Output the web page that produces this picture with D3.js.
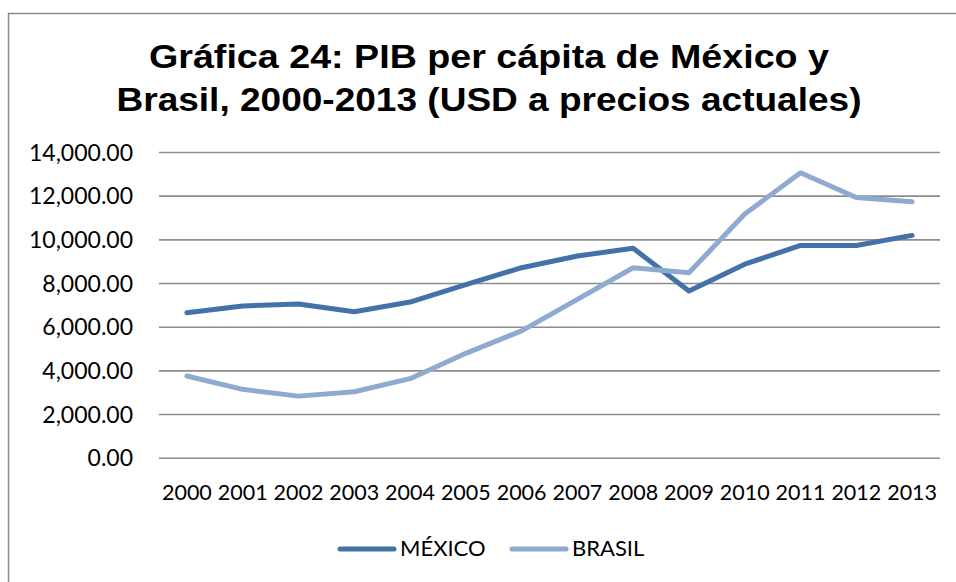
<!DOCTYPE html>
<html><head><meta charset="utf-8">
<script src="https://cdn.jsdelivr.net/npm/d3@7"></script>
<style>body{margin:0;background:#fff}svg{display:block}</style>
</head><body>
<script>
const years = ["2000","2001","2002","2003","2004","2005","2006","2007","2008","2009","2010","2011","2012","2013"];
const mexico = [6640,6950,7040,6680,7130,7930,8700,9240,9590,7630,8860,9720,9720,10180];
const brasil = [3740,3130,2820,3020,3620,4780,5810,7250,8700,8470,11160,13050,11920,11720];
const yTicks = [0,2000,4000,6000,8000,10000,12000,14000];
const titleLines = ["Gráfica 24: PIB per cápita de México y","Brasil, 2000-2013 (USD a precios actuales)"];
const seriesNames = ["MÉXICO","BRASIL"];
const colors = ["#4471a8","#8eaad0"];

const W=956,H=582;
const svg=d3.select("body").append("svg").attr("width",W).attr("height",H);
svg.append("rect").attr("x",8.5).attr("y",13.5).attr("width",W+20).attr("height",H+20)
  .attr("fill","#fff").attr("stroke","#8a8a8a").attr("stroke-width",1.5);

const titleWidths=[680,745];
titleLines.forEach((t,i)=>svg.append("text").attr("text-anchor","middle")
  .attr("font-family","'Liberation Sans',Arial,sans-serif").attr("font-weight","bold")
  .attr("font-size",33).attr("fill","#000")
  .attr("x",489).attr("y",68+i*43)
  .attr("textLength",titleWidths[i]).attr("lengthAdjust","spacingAndGlyphs").text(t));

const x=d3.scaleBand().domain(years).range([159,940]);
const y=d3.scaleLinear().domain([0,14000]).range([457.7,152]);
const font="Lato, 'Open Sans', sans-serif";

const yAxis=svg.append("g").attr("transform","translate(159,0)")
  .call(d3.axisLeft(y).tickValues(yTicks).tickFormat(d3.format(",.2f")).tickSize(-781).tickPadding(26));
yAxis.select(".domain").remove();
yAxis.selectAll("line").attr("stroke","#8c8c8c").attr("stroke-width",1.6);
yAxis.selectAll("text").attr("font-family",font).attr("font-size",23).attr("fill","#000").attr("dy","0.35em");

const xAxis=svg.append("g").attr("transform","translate(0,457.7)")
  .call(d3.axisBottom(x).tickSize(0).tickPadding(27));
xAxis.select(".domain").remove();
xAxis.selectAll("text").attr("font-family",font).attr("font-size",21.5).attr("fill","#000").attr("dy","0.71em");

const line=d3.line().x((d,i)=>x(years[i])+x.bandwidth()/2).y(d=>y(d));
[mexico,brasil].forEach((s,k)=>{
  svg.append("path").datum(s).attr("d",line).attr("fill","none")
    .attr("stroke",colors[k]).attr("stroke-width",5).attr("stroke-linejoin","round").attr("stroke-linecap","round");
});

const legendX=[340,512];
seriesNames.forEach((n,k)=>{
  svg.append("line").attr("x1",legendX[k]).attr("x2",legendX[k]+54).attr("y1",549).attr("y2",549)
    .attr("stroke",colors[k]).attr("stroke-width",5).attr("stroke-linecap","round");
  svg.append("text").attr("x",legendX[k]+60).attr("y",556).attr("font-family",font).attr("font-size",22)
    .attr("fill","#000").text(n);
});
</script>
</body></html>
